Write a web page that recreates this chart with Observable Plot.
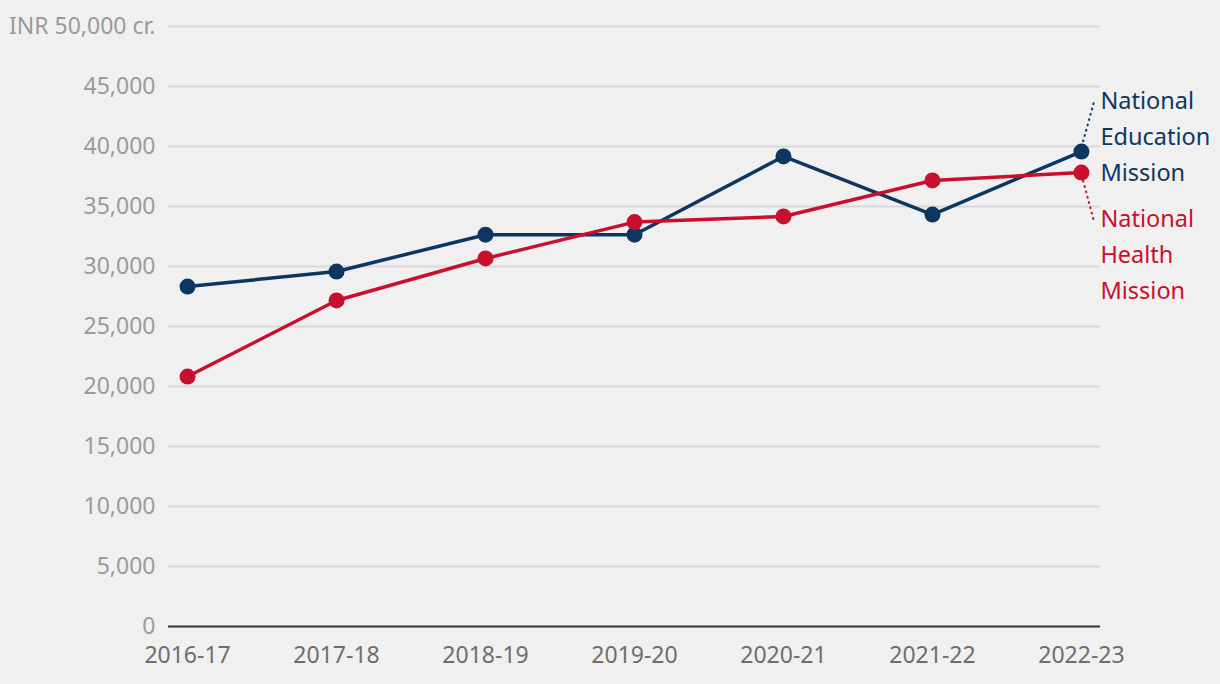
<!DOCTYPE html>
<html>
<head>
<meta charset="utf-8">
<script src="https://cdn.jsdelivr.net/npm/d3@7"></script>
<script src="https://cdn.jsdelivr.net/npm/@observablehq/plot@0.6"></script>
<style>
  html, body { margin: 0; padding: 0; background: #f0f0f0; }
  #chart svg { display: block; }
</style>
</head>
<body>
<div id="chart"></div>
<script>
const years = ["2016-17", "2017-18", "2018-19", "2019-20", "2020-21", "2021-22", "2022-23"];
const educationMission = [28330, 29580, 32650, 32650, 39170, 34330, 39580];
const healthMission = [20830, 27170, 30670, 33700, 34170, 37170, 37830];
const seriesNames = ["National Education Mission", "National Health Mission"];
const yTicks = [0, 5000, 10000, 15000, 20000, 25000, 30000, 35000, 40000, 45000, 50000];
const topTickLabel = "INR 50,000 cr.";

const colors = ["#0d3761", "#c8102e"];
const font = "'Noto Sans', sans-serif";

const rows = [];
years.forEach((y, i) => {
  rows.push({year: y, value: educationMission[i], series: seriesNames[0]});
  rows.push({year: y, value: healthMission[i], series: seriesNames[1]});
});
const lastYear = years[years.length - 1];
const labels = [
  {year: lastYear, value: educationMission[educationMission.length - 1], series: seriesNames[0], text: "National\nEducation\nMission"},
  {year: lastYear, value: healthMission[healthMission.length - 1], series: seriesNames[1], text: "National\nHealth\nMission"}
];

const fmt = d3.format(",");
const plot = Plot.plot({
  width: 1220,
  height: 684,
  marginLeft: 168,
  marginRight: 120,
  marginTop: 26,
  marginBottom: 58,
  style: {background: "#f0f0f0", fontFamily: font, fontSize: "23px", overflow: "visible"},
  x: {type: "point", domain: years, padding: 0.128, round: false, label: null},
  y: {domain: [0, 50000], label: null},
  color: {domain: seriesNames, range: colors},
  marks: [
    Plot.ruleY(yTicks.filter(d => d > 0), {stroke: "#d8d8d8", strokeWidth: 2}),
    Plot.axisY({ticks: yTicks, tickSize: 0, tickPadding: 13, fill: "#9a9a9a", fontSize: 23,
      tickFormat: d => d === 50000 ? topTickLabel : fmt(d), label: null}),
    Plot.axisX({tickSize: 0, tickPadding: 20, fill: "#6e6e6e", fontSize: 23, label: null}),
    Plot.ruleY([0], {stroke: "#333333", strokeWidth: 2}),
    Plot.line(rows, {x: "year", y: "value", z: "series", stroke: "series", strokeWidth: 3.5}),
    Plot.dot(rows, {x: "year", y: "value", fill: "series", r: 8}),
    Plot.text(labels.slice(0, 1), {x: "year", y: "value", text: "text", fill: "series",
      textAnchor: "start", lineAnchor: "middle", dx: 19, dy: -18, lineHeight: 36/23.5, fontSize: 23.5}),
    Plot.text(labels.slice(1), {x: "year", y: "value", text: "text", fill: "series",
      textAnchor: "start", lineAnchor: "middle", dx: 19, dy: 79, lineHeight: 36/23.5, fontSize: 23.5})
  ]
});

// dotted connectors from last points to labels, placed via the plot's scales
const xs = plot.scale("x"), ys = plot.scale("y");
const svg = d3.select(plot);
labels.forEach((l, i) => {
  const cx = xs.apply(l.year), cy = ys.apply(l.value);
  const up = i === 0;
  svg.append("line")
    .attr("x1", cx + 2).attr("y1", up ? cy - 9 : cy + 8)
    .attr("x2", cx + 13).attr("y2", up ? cy - 49 : cy + 49)
    .attr("stroke", colors[i]).attr("stroke-width", 2)
    .attr("stroke-dasharray", "2.5,3");
});

document.getElementById("chart").appendChild(plot);
</script>
</body>
</html>
